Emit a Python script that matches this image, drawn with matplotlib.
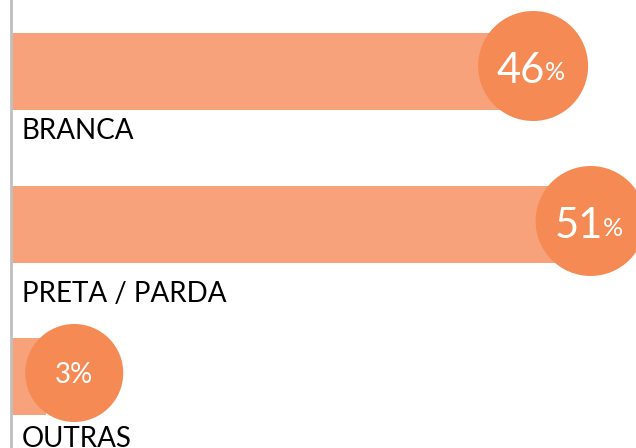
import matplotlib
matplotlib.use("Agg")
import matplotlib.pyplot as plt
from matplotlib.transforms import offset_copy

categories = ["BRANCA", "PRETA / PARDA", "OUTRAS"]
values = [46, 51, 3]
number_labels = ["46", "51", "3"]

BAR_COLOR = "#F7A27A"
CIRCLE_COLOR = "#F58A55"
AXIS_COLOR = "#BFBFBF"

W, H, DPI = 636, 448, 100
fig = plt.figure(figsize=(W / DPI, H / DPI), dpi=DPI)
ax = fig.add_axes([0, 0, 1, 1])

px_per_pct = 11.5
x0_px = 11
ax.set_xlim(-x0_px / px_per_pct, (W - x0_px) / px_per_pct)
ax.set_ylim(H, 0)
ax.axis("off")

bar_centers = [71.5, 224.5, 376.5]
bar_height = 77
label_base = [139, 302, 447]
circle_y = [66, 221, 373]
circle_r = [55, 55, 49]
min_center = 5.5

ax.barh(bar_centers, values, height=bar_height, color=BAR_COLOR, zorder=2)
ax.axvline(0, color=AXIS_COLOR, lw=2, zorder=3)

for i, (cat, v) in enumerate(zip(categories, values)):
    cx = max(v - 0.6, min_center)
    d_pt = 2 * circle_r[i] * 72 / DPI
    ax.scatter([cx], [circle_y[i]], s=d_pt ** 2, color=CIRCLE_COLOR,
               edgecolors="none", zorder=4, clip_on=False)
    if v >= 10:
        t1 = offset_copy(ax.transData, fig=fig, x=12 * 72 / DPI, y=-5 * 72 / DPI, units="points")
        ax.text(cx, circle_y[i], number_labels[i], transform=t1, ha="right", va="center",
                color="white", fontsize=30, family="Lato", zorder=5)
        t2 = offset_copy(ax.transData, fig=fig, x=12 * 72 / DPI, y=-7 * 72 / DPI, units="points")
        ax.text(cx, circle_y[i], "%", transform=t2, ha="left", va="center",
                color="white", fontsize=18, family="Lato", zorder=5)
    else:
        ax.text(cx, circle_y[i] + 2, number_labels[i] + "%", ha="center", va="center",
                color="white", fontsize=20, family="Lato", zorder=5)
    tl = offset_copy(ax.transData, fig=fig, x=11 * 72 / DPI, y=0, units="points")
    ax.text(0, label_base[i], cat, transform=tl, ha="left", va="baseline",
            color="black", fontsize=20, family="Lato", zorder=5)

fig.savefig("out.png", dpi=DPI)
